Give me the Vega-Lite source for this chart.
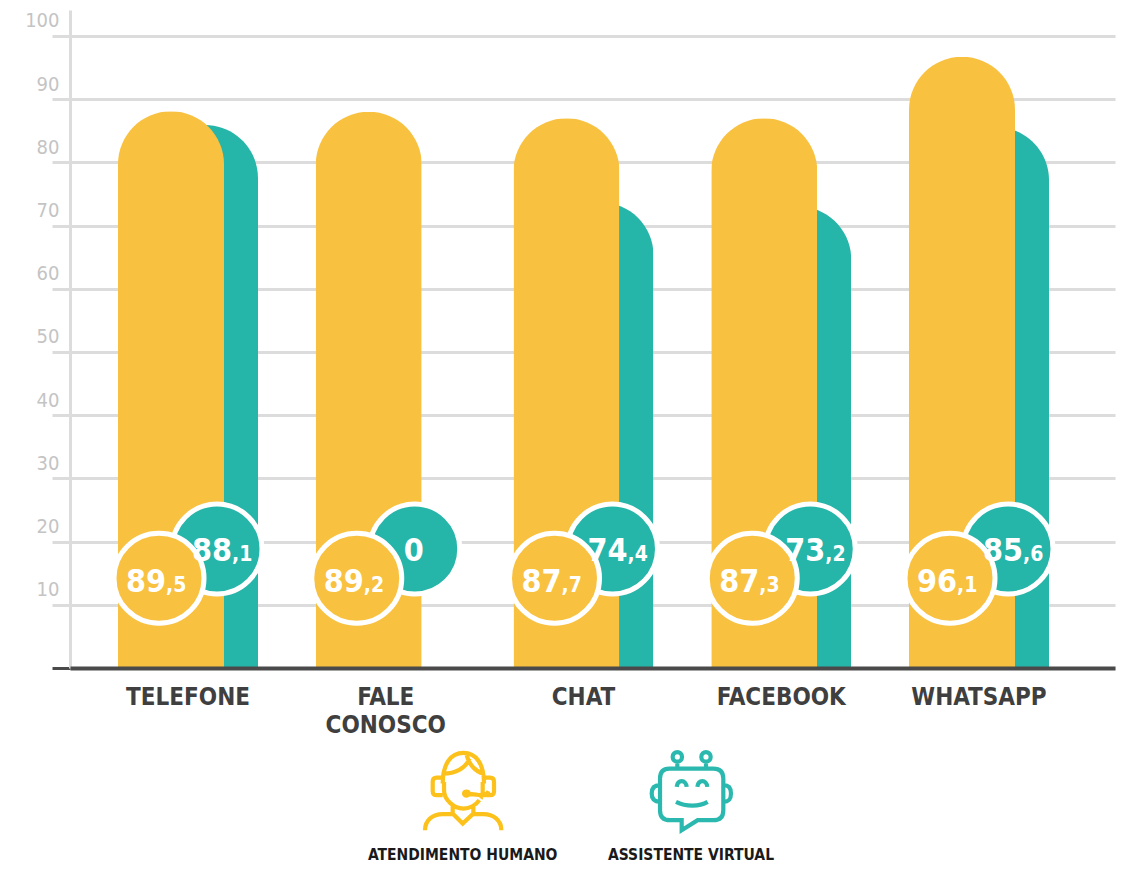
{
  "$schema": "https://vega.github.io/schema/vega-lite/v6.json",
  "width": 1045,
  "height": 658,
  "autosize": {"type": "none"},
  "padding": {"left": 70, "top": 10, "right": 31, "bottom": 209},
  "background": "#ffffff",
  "config": {"view": {"stroke": null}, "font": "DejaVu Sans Condensed, Roboto, sans-serif"},
  "datasets": {
    "canais": [
      {"canal": "TELEFONE", "serie": "Atendimento humano", "altura": 88.1, "inteiro": "89", "decimal": ",5"},
      {"canal": "TELEFONE", "serie": "Assistente virtual", "altura": 85.9, "inteiro": "88", "decimal": ",1"},
      {"canal": "FALE CONOSCO", "serie": "Atendimento humano", "altura": 88.0, "inteiro": "89", "decimal": ",2"},
      {"canal": "FALE CONOSCO", "serie": "Assistente virtual", "altura": 0, "inteiro": "0", "decimal": ""},
      {"canal": "CHAT", "serie": "Atendimento humano", "altura": 87.0, "inteiro": "87", "decimal": ",7"},
      {"canal": "CHAT", "serie": "Assistente virtual", "altura": 73.7, "inteiro": "74", "decimal": ",4"},
      {"canal": "FACEBOOK", "serie": "Atendimento humano", "altura": 87.0, "inteiro": "87", "decimal": ",3"},
      {"canal": "FACEBOOK", "serie": "Assistente virtual", "altura": 73.0, "inteiro": "73", "decimal": ",2"},
      {"canal": "WHATSAPP", "serie": "Atendimento humano", "altura": 96.7, "inteiro": "96", "decimal": ",1"},
      {"canal": "WHATSAPP", "serie": "Assistente virtual", "altura": 85.6, "inteiro": "85", "decimal": ",6"}
    ],
    "legenda": [
      {"serie": "Atendimento humano", "texto": "ATENDIMENTO HUMANO"},
      {"serie": "Assistente virtual", "texto": "ASSISTENTE VIRTUAL"}
    ]
  },
  "resolve": {"scale": {"x": "independent"}},
  "layer": [
    {
      "data": {"name": "canais"},
      "encoding": {
        "x": {
          "field": "canal",
          "type": "nominal",
          "sort": null,
          "scale": {"paddingInner": 0, "paddingOuter": 0.1422, "align": 0.34},
          "axis": {
            "title": null,
            "labelAngle": 0,
            "labelExpr": "split(datum.label, ' ')",
            "labelFontSize": 24,
            "labelFontWeight": "bold",
            "labelColor": "#3f3f3f",
            "labelLineHeight": 28,
            "labelPadding": 17,
            "ticks": false,
            "domainColor": "#4a4a4a",
            "domainWidth": 4,
            "zindex": 1
          }
        }
      },
      "layer": [
        {
          "transform": [{"filter": "datum.serie === 'Assistente virtual'"}],
          "mark": {"type": "bar", "width": 106, "xOffset": 17, "cornerRadiusTopLeft": 53, "cornerRadiusTopRight": 53, "color": "#26b5a9"},
          "encoding": {
            "y": {
              "field": "altura",
              "type": "quantitative",
              "scale": {"domain": [0, 104.11], "nice": false},
              "axis": {
                "title": null,
                "values": [0, 10, 20, 30, 40, 50, 60, 70, 80, 90, 100],
                "labelExpr": "datum.value === 0 ? '' : datum.label",
                "labelFontSize": 20,
                "labelColor": "#c4c4c4",
                "labelOffset": -15,
                "labelPadding": -7,
                "tickSize": 18,
                "tickWidth": 3,
                "tickColor": {"condition": {"test": "datum.value === 0", "value": "#4a4a4a"}, "value": "#dcdcdc"},
                "domainColor": "#dcdcdc",
                "domainWidth": 3,
                "grid": true,
                "gridColor": "#dcdcdc",
                "gridWidth": 3
              }
            }
          }
        },
        {
          "transform": [{"filter": "datum.serie === 'Atendimento humano'"}],
          "mark": {"type": "bar", "width": 106, "xOffset": -17, "cornerRadiusTopLeft": 53, "cornerRadiusTopRight": 53, "color": "#f9c140"},
          "encoding": {"y": {"field": "altura", "type": "quantitative"}}
        },
        {
          "transform": [{"filter": "datum.serie === 'Assistente virtual'"}],
          "mark": {"type": "point", "filled": true, "shape": "circle", "size": 8100, "xOffset": 29, "color": "#26b5a9", "opacity": 1, "stroke": "#ffffff", "strokeWidth": 5},
          "encoding": {"y": {"datum": 18.83}}
        },
        {
          "transform": [{"filter": "datum.serie === 'Atendimento humano'"}],
          "mark": {"type": "point", "filled": true, "shape": "circle", "size": 8100, "xOffset": -29, "color": "#f9c140", "opacity": 1, "stroke": "#ffffff", "strokeWidth": 5},
          "encoding": {"y": {"datum": 14.2}}
        },
        {
          "transform": [{"filter": "datum.serie === 'Assistente virtual' && datum.decimal !== ''"}],
          "mark": {"type": "text", "align": "right", "baseline": "alphabetic", "dx": 44, "dy": 12, "fontSize": 32, "fontWeight": "bold", "color": "#ffffff"},
          "encoding": {"y": {"datum": 18.83}, "text": {"field": "inteiro"}}
        },
        {
          "transform": [{"filter": "datum.serie === 'Assistente virtual' && datum.decimal !== ''"}],
          "mark": {"type": "text", "align": "left", "baseline": "alphabetic", "dx": 44, "dy": 12, "fontSize": 21, "fontWeight": "bold", "color": "#ffffff"},
          "encoding": {"y": {"datum": 18.83}, "text": {"field": "decimal"}}
        },
        {
          "transform": [{"filter": "datum.serie === 'Assistente virtual' && datum.decimal === ''"}],
          "mark": {"type": "text", "align": "center", "baseline": "alphabetic", "dx": 28, "dy": 12, "fontSize": 32, "fontWeight": "bold", "color": "#ffffff"},
          "encoding": {"y": {"datum": 18.83}, "text": {"field": "inteiro"}}
        },
        {
          "transform": [{"filter": "datum.serie === 'Atendimento humano'"}],
          "mark": {"type": "text", "align": "right", "baseline": "alphabetic", "dx": -22, "dy": 14, "fontSize": 32, "fontWeight": "bold", "color": "#ffffff"},
          "encoding": {"y": {"datum": 14.2}, "text": {"field": "inteiro"}}
        },
        {
          "transform": [{"filter": "datum.serie === 'Atendimento humano'"}],
          "mark": {"type": "text", "align": "left", "baseline": "alphabetic", "dx": -22, "dy": 14, "fontSize": 21, "fontWeight": "bold", "color": "#ffffff"},
          "encoding": {"y": {"datum": 14.2}, "text": {"field": "decimal"}}
        }
      ]
    },
    {
      "data": {"name": "legenda"},
      "encoding": {
        "x": {
          "field": "serie",
          "type": "nominal",
          "sort": null,
          "scale": {"type": "point", "padding": 0, "domain": ["Atendimento humano", "Assistente virtual"], "range": [392.7, 621]},
          "axis": null
        }
      },
      "layer": [
        {
          "mark": {"type": "point", "filled": false, "size": 0.444, "strokeWidth": 4.2, "opacity": 1},
          "encoding": {
            "y": {"datum": -19.6},
            "stroke": {
              "field": "serie",
              "type": "nominal",
              "scale": {"domain": ["Atendimento humano", "Assistente virtual"], "range": ["#fcc21b", "#2bb8ae"]},
              "legend": null
            },
            "shape": {
              "field": "serie",
              "type": "nominal",
              "scale": {
                "domain": ["Atendimento humano", "Assistente virtual"],
                "range": [
                  "M-60,-25 C-60,-85 -35,-117 2,-117 C40,-117 64,-85 64,-25 M-58,-55 C-25,-55 10,-70 20,-100 M12,-110 C20,-80 40,-60 62,-55 M-56,-30 L-56,-5 C-56,25 -25,50 2,50 C20,50 40,40 50,25 M60,-30 L60,0 C60,8 58,14 54,20 M-60,-43 L-78,-43 Q-90,-43 -90,-31 L-90,-2 Q-90,10 -78,10 L-60,10 M64,-43 L82,-43 Q94,-43 94,-31 L94,-2 Q94,10 82,10 L64,10 M12,5 L40,8 C58,12 72,8 78,-2 M4,5 C4,-3 18,-3 18,5 C18,13 4,13 4,5 Z M-30,42 L-30,65 L0,95 L32,65 L32,42 M-113,115 C-113,85 -90,67 -60,67 L-30,67 M32,67 L62,67 C92,67 116,85 116,115",
                  "M-65,-70 L67,-70 Q97,-70 97,-40 L97,55 Q97,85 67,85 L20,85 L-28,115 L-28,85 L-63,85 Q-93,85 -93,55 L-93,-40 Q-93,-70 -65,-70 Z M-93,-20 C-110,-20 -118,-12 -118,5 C-118,22 -110,30 -93,30 M97,-20 C114,-20 120,-12 120,5 C120,22 114,30 97,30 M-41,-91 L-41,-70 M45,-91 L45,-70 M-55,-105 C-55,-124 -27,-124 -27,-105 C-27,-86 -55,-86 -55,-105 Z M31,-105 C31,-124 59,-124 59,-105 C59,-86 31,-86 31,-105 Z M-43,-15 C-40,-38 -15,-38 -13,-15 M19,-15 C22,-38 47,-38 49,-15 M-45,30 C-15,45 25,45 50,30"
                ]
              },
              "legend": null
            }
          }
        },
        {
          "mark": {"type": "text", "align": "center", "baseline": "middle", "dy": 1, "fontSize": 15.5, "fontWeight": "bold", "color": "#1a1a1a"},
          "encoding": {"y": {"datum": -29.43}, "text": {"field": "texto"}}
        }
      ]
    }
  ]
}
